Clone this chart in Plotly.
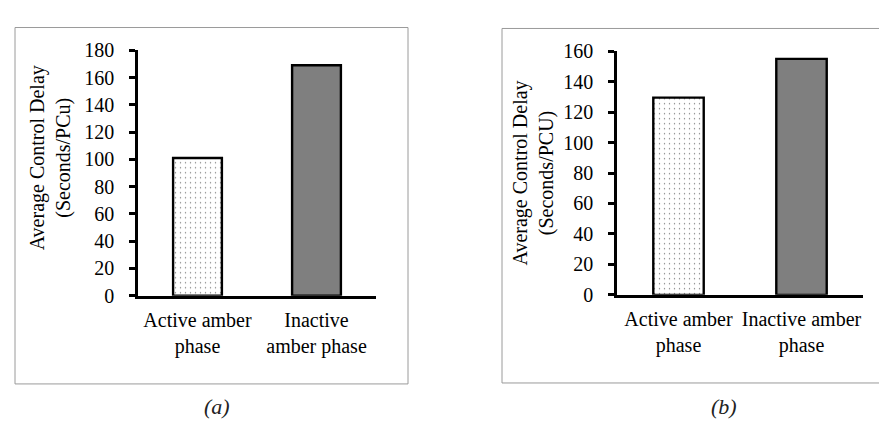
import plotly.graph_objects as go

categories_a = ["Active amber<br>phase", "Inactive<br>amber phase"]
delay_a = [101, 169]
categories_b = ["Active amber<br>phase", "Inactive amber<br>phase"]
delay_b = [129.5, 155]
yticks_a = list(range(0, 181, 20))
yticks_b = list(range(0, 161, 20))

W, H = 887, 422
def px(x):
    return x / W
def py(y):
    return 1 - y / H

FONT = "Liberation Serif"

fig = go.Figure()

patterns = [
    dict(shape=".", bgcolor="white", fgcolor="black", size=5, solidity=0.06),
    dict(shape=".", bgcolor="#959595", fgcolor="#303030", size=2, solidity=0.5),
]

for i, (cats, vals, ax) in enumerate([(categories_a, delay_a, ""), (categories_b, delay_b, "2")]):
    for j in range(len(cats)):
        fig.add_trace(go.Bar(
            x=[cats[j]], y=[vals[j]],
            xaxis="x" + ax, yaxis="y" + ax,
            width=0.41,
            marker=dict(color=patterns[j]["bgcolor"], pattern=patterns[j],
                        line=dict(color="black", width=2.4)),
            showlegend=False, hoverinfo="skip",
        ))

axis_common = dict(showline=True, linecolor="black", linewidth=2.5, showgrid=False,
                   zeroline=False, tickfont=dict(family=FONT, size=20, color="black"))

fig.update_layout(
    width=W, height=H,
    margin=dict(l=0, r=0, t=0, b=0),
    paper_bgcolor="white", plot_bgcolor="white",
    barmode="overlay",
    xaxis=dict(domain=[px(130), px(368)], anchor="y", categoryorder="array",
               categoryarray=categories_a, ticks="", ticklabelstandoff=4, **axis_common),
    yaxis=dict(domain=[py(292), py(33)], anchor="x", range=[0, 180], tickvals=yticks_a,
               ticks="outside", ticklen=6, tickwidth=2.5, tickcolor="black",
               ticklabelstandoff=11, **axis_common),
    xaxis2=dict(domain=[px(609), px(855)], anchor="y2", categoryorder="array",
                categoryarray=categories_b, ticks="", ticklabelstandoff=4, **axis_common),
    yaxis2=dict(domain=[py(291), py(34)], anchor="x2", range=[0, 160], tickvals=yticks_b,
                ticks="outside", ticklen=6, tickwidth=2.5, tickcolor="black",
                ticklabelstandoff=11, **axis_common),
    shapes=[
        dict(type="rect", xref="paper", yref="paper", x0=px(7), x1=px(400), y0=py(385), y1=py(9),
             line=dict(color="#9a9a9a", width=1)),
        dict(type="rect", xref="paper", yref="paper", x0=px(494), x1=px(880), y0=py(384), y1=py(10),
             line=dict(color="#9a9a9a", width=1)),
    ],
    annotations=[
        dict(text="Average Control Delay<br>(Seconds/PCu)", xref="paper", yref="paper",
             x=px(42), y=py(147), xanchor="center", yanchor="middle", textangle=-90,
             showarrow=False, font=dict(family=FONT, size=20, color="black")),
        dict(text="Average Control Delay<br>(Seconds/PCU)", xref="paper", yref="paper",
             x=px(526), y=py(163), xanchor="center", yanchor="middle", textangle=-90,
             showarrow=False, font=dict(family=FONT, size=20, color="black")),
        dict(text="<i>(a)</i>", xref="paper", yref="paper", x=px(209), y=py(409),
             xanchor="center", yanchor="middle",
             showarrow=False, font=dict(family=FONT, size=22, color="#222")),
        dict(text="<i>(b)</i>", xref="paper", yref="paper", x=px(716), y=py(409),
             xanchor="center", yanchor="middle",
             showarrow=False, font=dict(family=FONT, size=22, color="#222")),
    ],
)

fig.write_html("out.html")
